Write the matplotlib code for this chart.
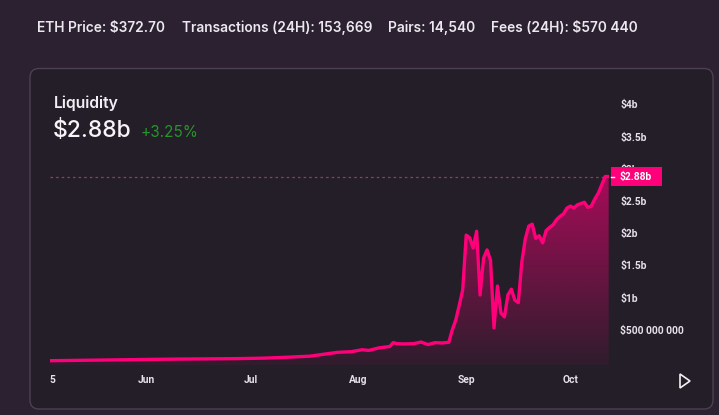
import matplotlib
matplotlib.use('Agg')
import matplotlib.pyplot as plt
import matplotlib.dates as mdates
from matplotlib.patches import FancyBboxPatch, Polygon, Rectangle
from matplotlib.transforms import blended_transform_factory
import numpy as np
import pandas as pd

# data (liquidity, billions of USD)
dates = ["2020-05-04", "2020-05-12", "2020-05-19", "2020-05-26", "2020-06-02",
         "2020-06-10", "2020-06-18", "2020-06-27", "2020-07-05", "2020-07-12",
         "2020-07-18", "2020-07-22", "2020-07-26", "2020-07-30", "2020-08-02",
         "2020-08-04", "2020-08-07", "2020-08-10", "2020-08-11", "2020-08-12",
         "2020-08-14", "2020-08-17", "2020-08-19", "2020-08-21", "2020-08-23",
         "2020-08-25", "2020-08-27", "2020-08-28", "2020-08-29", "2020-08-30",
         "2020-08-31", "2020-09-01", "2020-09-02", "2020-09-03", "2020-09-04",
         "2020-09-05", "2020-09-06", "2020-09-07", "2020-09-08", "2020-09-09",
         "2020-09-10", "2020-09-11", "2020-09-12", "2020-09-13", "2020-09-14",
         "2020-09-15", "2020-09-16", "2020-09-17", "2020-09-18", "2020-09-19",
         "2020-09-20", "2020-09-21", "2020-09-22", "2020-09-23", "2020-09-24",
         "2020-09-25", "2020-09-26", "2020-09-27", "2020-09-28", "2020-09-29",
         "2020-09-30", "2020-10-01", "2020-10-02", "2020-10-03", "2020-10-04",
         "2020-10-05", "2020-10-06", "2020-10-07", "2020-10-08", "2020-10-09",
         "2020-10-10", "2020-10-11", "2020-10-12"]
liquidity = [0.02, 0.025, 0.03, 0.035, 0.04,
             0.045, 0.048, 0.052, 0.06, 0.075,
             0.09, 0.12, 0.15, 0.16, 0.19,
             0.18, 0.22, 0.24, 0.30, 0.285,
             0.28, 0.285, 0.31, 0.27, 0.30,
             0.295, 0.305, 0.50, 0.65, 0.88,
             1.12, 1.97, 1.93, 1.77, 2.03,
             1.04, 1.61, 1.74, 1.58, 0.53,
             1.18, 0.76, 0.70, 1.04, 1.13,
             0.96, 0.92, 1.55, 1.91, 2.11,
             2.14, 1.92, 1.96, 1.85, 2.04,
             2.09, 2.13, 2.21, 2.26, 2.30,
             2.39, 2.42, 2.39, 2.44, 2.46,
             2.48, 2.40, 2.42, 2.53, 2.62,
             2.75, 2.88, 2.88]
current = 2.88
y_ticks = [0.5, 1, 1.5, 2, 2.5, 3, 3.5, 4]
y_labels = ["$500 000 000", "$1b", "$1.5b", "$2b", "$2.5b", "$3b", "$3.5b", "$4b"]
x_ticks = ["2020-05-05", "2020-06-01", "2020-07-01", "2020-08-01", "2020-09-01", "2020-10-01"]
x_labels = ["5", "Jun", "Jul", "Aug", "Sep", "Oct"]
header = [("ETH Price: $372.70", 37), ("Transactions (24H): 153,669", 182),
          ("Pairs: 14,540", 388), ("Fees (24H): $570 440", 491)]

PINK = '#ff007a'
BG = '#2b2130'
CARD = '#231e28'
W, H = 719, 415

fig = plt.figure(figsize=(W / 100, H / 100), dpi=100, facecolor=BG)

# background layer in pixel coordinates
bg = fig.add_axes([0, 0, 1, 1], zorder=0)
bg.set_xlim(0, W)
bg.set_ylim(H, 0)
bg.axis('off')
bg.add_patch(FancyBboxPatch((30, 68.5), 683, 340.5, boxstyle='round,pad=0,rounding_size=9',
                            facecolor=CARD, edgecolor='#4b4152', linewidth=1))
for txt, x in header:
    bg.text(x, 28, txt, color='#ece8ef', fontsize=9.9, family='Inter', weight='semibold',
            va='center', ha='left')
bg.text(54, 103, "Liquidity", color='#f2eef4', fontsize=11.3, family='Inter',
        weight='semibold', va='center')
bg.text(53, 131, "$2.88b", color='#f7f4f8', fontsize=16.5, family='Inter',
        weight='medium', va='center')
bg.text(140, 132, "+3.25%", color='#26952a', fontsize=11, family='Inter', va='center')
bg.add_patch(Polygon([[680, 374], [680, 388], [690, 381]], closed=True, facecolor='none',
                     edgecolor='#f0f0f0', linewidth=1.2))

# chart area: value 0 sits at y=362 px, 0.5b per 32.2 px
x_left, x_right = 50, 609
y_bot, y_top = 365.2, 91.5
ax = fig.add_axes([x_left / W, 1 - y_bot / H, (x_right - x_left) / W, (y_bot - y_top) / H], zorder=1)
ax.patch.set_alpha(0)

xd = mdates.date2num(pd.to_datetime(dates))
yv = np.array(liquidity)
ymin, ymax = -0.05, 4.2

# gradient under the line
rgba = np.zeros((256, 1, 4))
rgba[..., 0], rgba[..., 1], rgba[..., 2] = 1.0, 0.0, 122 / 255
rgba[:, 0, 3] = np.linspace(0.06, 0.6, 256)
im = ax.imshow(rgba, extent=[xd[0], xd[-1], ymin, current], origin='lower',
               aspect='auto', zorder=1, interpolation='bilinear')
verts = np.column_stack([np.r_[xd, xd[-1], xd[0]], np.r_[yv, ymin, ymin]])
clip = Polygon(verts, closed=True, facecolor='none', edgecolor='none', transform=ax.transData)
ax.add_patch(clip)
im.set_clip_path(clip)

ax.plot(xd, yv, color=PINK, linewidth=2.4, solid_joinstyle='round', zorder=3)
ax.axhline(current, color='#9a3a6c', linewidth=0.9, linestyle=(0, (2, 2.5)), zorder=2)

jun1 = mdates.date2num(pd.Timestamp("2020-06-01"))
ax.set_xlim(jun1 - (146.5 - x_left) / 3.475, jun1 + (x_right - 146.5) / 3.475)
ax.set_ylim(ymin, ymax)
for s in ax.spines.values():
    s.set_visible(False)

ax.yaxis.tick_right()
ax.set_yticks(y_ticks)
ax.set_yticklabels(y_labels)
ax.set_xticks(mdates.date2num(pd.to_datetime(x_ticks)))
ax.set_xticklabels(x_labels)
ax.tick_params(axis='y', length=0, pad=8, labelsize=7.4, labelcolor='#e6e2ea')
ax.tick_params(axis='x', length=0, pad=7, labelsize=7.4, labelcolor='#e6e2ea')
for lab in ax.get_xticklabels() + ax.get_yticklabels():
    lab.set_family('Roboto')
    lab.set_weight('bold')

# current value tag
tr = blended_transform_factory(ax.transAxes, ax.transData)
px = 1 / (x_right - x_left)
pv = (ymax - ymin) / (y_bot - y_top)
ax.add_patch(Rectangle((1 + 2 * px, current - 9.5 * pv), 51 * px, 19 * pv, transform=tr,
                       facecolor=PINK, edgecolor='none', clip_on=False, zorder=5))
ax.plot([1 + 2 * px, 1 + 5 * px], [current, current], transform=tr, color='white',
        linewidth=1, clip_on=False, zorder=6)
ax.text(1 + 11 * px, current, "$2.88b", transform=tr, color='white', fontsize=7.4,
        family='Roboto', weight='bold', va='center', ha='left', zorder=6)

fig.savefig('out.png', dpi=100, facecolor=BG)
